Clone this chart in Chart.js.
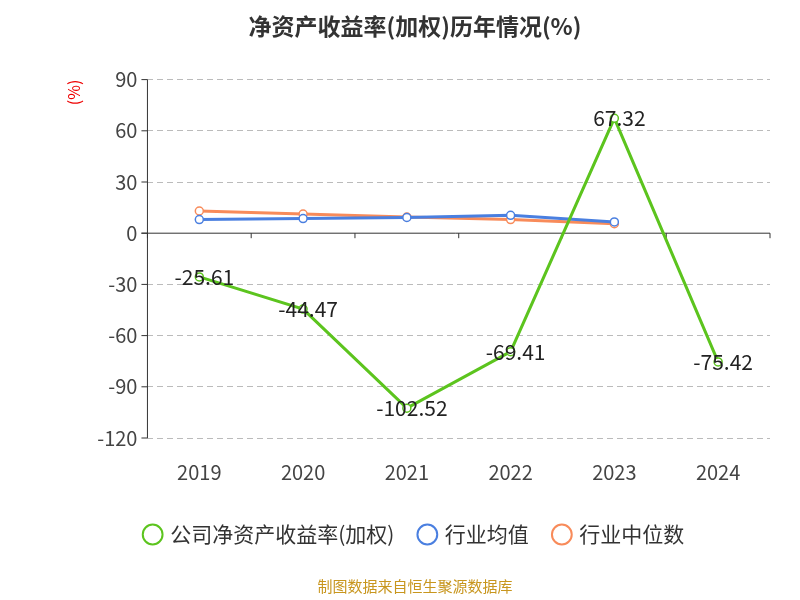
<!DOCTYPE html>
<html><head><meta charset="utf-8">
<script src="https://cdn.jsdelivr.net/npm/chart.js@4/dist/chart.umd.min.js"></script>
<style>body{margin:0;background:#fff}</style>
</head><body><canvas id="c" width="800" height="600" style="width:800px;height:600px"></canvas>
<script>
const categories=['2019','2020','2021','2022','2023','2024'];
const companyROE=[-25.61,-44.47,-102.52,-69.41,67.32,-75.42];
const industryAvg=[8.0,8.6,9.2,10.5,6.6,null];
const industryMedian=[13.0,11.2,9.5,8.0,5.6,null];
const yTicks=[90,60,30,0,-30,-60,-90,-120];
const F='"Noto Sans CJK SC","Noto Sans",sans-serif';
const labelPlugin={id:'lbl',afterDatasetsDraw(ch){
  const ctx=ch.ctx,meta=ch.getDatasetMeta(0);
  ctx.save();ctx.font='21px '+F;ctx.fillStyle='#222';ctx.textAlign='center';ctx.textBaseline='middle';
  meta.data.forEach((p,i)=>{ctx.fillText(companyROE[i].toFixed(2),p.x+5,p.y);});
  ctx.restore();}};
const axesPlugin={id:'ax',beforeDatasetsDraw(ch){
  const {ctx,chartArea:a,scales:{y}}=ch;const y0=y.getPixelForValue(0);
  ctx.save();ctx.strokeStyle='#333';ctx.lineWidth=1;ctx.setLineDash([]);
  ctx.beginPath();ctx.moveTo(a.left-6,y0);ctx.lineTo(a.right,y0);ctx.stroke();
  ctx.beginPath();ctx.moveTo(a.left,a.top);ctx.lineTo(a.left,a.bottom);ctx.stroke();
  yTicks.forEach(v=>{const yy=y.getPixelForValue(v);ctx.beginPath();ctx.moveTo(a.left-6,yy);ctx.lineTo(a.left,yy);ctx.stroke();});
  const n=categories.length,w=(a.right-a.left)/n;
  for(let i=0;i<=n;i++){const x=a.left+i*w;ctx.beginPath();ctx.moveTo(x,y0);ctx.lineTo(x,y0+5);ctx.stroke();}
  ctx.restore();}};
const mk=(l,d,c)=>({label:l,data:d,borderColor:c,backgroundColor:'#fff',borderWidth:3,pointRadius:4,pointBorderWidth:1.5,pointBackgroundColor:'#fff',tension:0});
new Chart(document.getElementById('c'),{type:'line',
data:{labels:categories,datasets:[mk('公司净资产收益率(加权)',companyROE,'#5cc41e'),mk('行业均值',industryAvg,'#4a7fe0'),mk('行业中位数',industryMedian,'#f88b5a')]},
options:{responsive:false,animation:false,
layout:{padding:{left:60,right:30,top:10,bottom:5}},
plugins:{title:{display:true,text:'净资产收益率(加权)历年情况(%)',font:{family:F,size:23,weight:'bold'},color:'#333',padding:{top:2,bottom:40}},
legend:{position:'bottom',labels:{font:{family:F,size:21},color:'#333',usePointStyle:true,boxWidth:14,boxHeight:14,padding:26,
generateLabels(ch){return ch.data.datasets.map((d,i)=>({text:d.label,strokeStyle:d.borderColor,fillStyle:'#fff',lineWidth:2,pointStyle:'circle',datasetIndex:i,fontColor:'#333'}));}}},
subtitle:{display:true,position:'bottom',text:'制图数据来自恒生聚源数据库',color:'#c8961e',font:{family:F,size:15},padding:{top:22,bottom:0}},
tooltip:{enabled:false}},
scales:{x:{offset:true,grid:{display:false},border:{display:false},ticks:{font:{family:F,size:20},color:'#444',padding:14}},
y:{min:-120,max:90,afterBuildTicks(s){s.ticks=yTicks.map(v=>({value:v}));},
title:{display:true,text:'(%)',color:'#e00',align:'end',font:{family:F,size:16}},
grid:{color:c=>c.tick&&c.tick.value===0?'rgba(0,0,0,0)':'#bbb',drawTicks:false},border:{display:false,dash:[6,4]},
ticks:{autoSkip:false,font:{family:F,size:20},color:'#444',padding:10}}}},
plugins:[labelPlugin,axesPlugin]});
</script>
</body></html>
